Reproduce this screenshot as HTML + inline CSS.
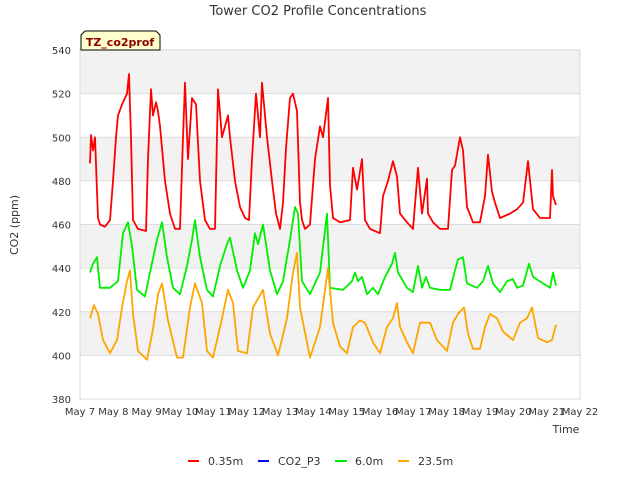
<!DOCTYPE html>
<html><head><meta charset="utf-8"><style>
body{margin:0;background:#fff;}
svg text{font-family:"DejaVu Sans","Liberation Sans",sans-serif;}
</style></head><body>
<svg id="chart" width="640" height="480" xmlns="http://www.w3.org/2000/svg">
<g id="bands"></g><g id="grid"></g>
<rect x="80" y="50" width="500" height="349" fill="none" stroke="#d8d8d8"/>
<g id="series"></g><g id="axes"></g>
<text x="318" y="15" text-anchor="middle" font-size="13" fill="#333">Tower CO2 Profile Concentrations</text>
<text transform="translate(18,225) rotate(-90)" text-anchor="middle" font-size="11" fill="#333">CO2 (ppm)</text>
<text x="566" y="433" text-anchor="middle" font-size="11" fill="#333">Time</text>
<g>
<path d="M81,50 L81,35 L85,31 L156,31 L160,35 L160,50 Z" fill="#ffffcc" stroke="#000" stroke-width="1"/>
<text x="120" y="46" text-anchor="middle" font-size="11" font-weight="bold" fill="#8b0000">TZ_co2prof</text>
</g>
<g>
<g><line x1="188" y1="461" x2="199" y2="461" stroke="#ff0000" stroke-width="2"/><text x="208" y="465" font-size="11" fill="#333">0.35m</text></g>
<g><line x1="258" y1="461" x2="269" y2="461" stroke="#0000ff" stroke-width="2"/><text x="278" y="465" font-size="11" fill="#333">CO2_P3</text></g>
<g><line x1="335" y1="461" x2="347" y2="461" stroke="#00ee00" stroke-width="2"/><text x="355" y="465" font-size="11" fill="#333">6.0m</text></g>
<g><line x1="398" y1="461" x2="409" y2="461" stroke="#ffa500" stroke-width="2"/><text x="418" y="465" font-size="11" fill="#333">23.5m</text></g>
</g>
</svg>
<script>
const yTicks=[380,400,420,440,460,480,500,520,540];
const xTickDays=[7,8,9,10,11,12,13,14,15,16,17,18,19,20,21,22];
const xTickLabels=["May 7","May 8","May 9","May 10","May 11","May 12","May 13","May 14","May 15","May 16","May 17","May 18","May 19","May 20","May 21","May 22"];
const redT=[7.30,7.33,7.39,7.45,7.54,7.60,7.75,7.90,7.99,8.08,8.14,8.26,8.41,8.47,8.53,8.59,8.74,8.98,9.04,9.13,9.19,9.28,9.34,9.40,9.55,9.70,9.85,10.00,10.09,10.15,10.24,10.36,10.48,10.60,10.75,10.90,11.05,11.14,11.26,11.35,11.44,11.50,11.65,11.80,11.95,12.07,12.16,12.28,12.40,12.46,12.52,12.61,12.76,12.88,13.00,13.09,13.18,13.30,13.39,13.51,13.60,13.66,13.75,13.90,14.05,14.20,14.29,14.44,14.50,14.59,14.80,15.10,15.19,15.31,15.46,15.55,15.70,16.00,16.09,16.24,16.39,16.51,16.60,16.81,16.99,17.14,17.26,17.41,17.44,17.59,17.80,18.04,18.16,18.25,18.40,18.49,18.61,18.79,19.00,19.15,19.24,19.36,19.45,19.60,19.90,20.11,20.29,20.44,20.59,20.80,21.10,21.16,21.19,21.28];
const redV=[488,501,494,500,463,460,459,462,480,500,510,515,520,529,500,462,458,457,490,522,510,516,512,505,480,465,458,458,500,525,490,518,515,480,462,458,458,522,500,505,510,500,480,468,463,462,490,520,500,525,515,500,480,465,458,470,495,518,520,512,470,462,458,460,490,505,500,518,478,463,461,462,486,476,490,462,458,456,473,480,489,482,465,461,458,486,465,481,465,461,458,458,485,487,500,494,468,461,461,473,492,475,470,463,465,467,470,489,467,463,463,485,473,469];
const greenT=[7.30,7.39,7.51,7.60,7.90,8.14,8.29,8.44,8.56,8.71,8.95,9.10,9.31,9.46,9.61,9.79,10.00,10.21,10.36,10.45,10.60,10.81,10.99,11.20,11.41,11.50,11.71,11.89,12.10,12.25,12.34,12.49,12.70,12.91,13.09,13.30,13.45,13.54,13.66,13.90,14.20,14.41,14.50,14.89,15.16,15.25,15.34,15.46,15.61,15.79,15.94,16.15,16.36,16.45,16.54,16.81,16.99,17.14,17.26,17.38,17.50,17.80,18.10,18.25,18.34,18.49,18.61,18.91,19.09,19.24,19.39,19.60,19.81,19.99,20.11,20.29,20.47,20.59,20.89,21.10,21.19,21.28];
const greenV=[438,442,445,431,431,434,456,461,450,430,427,438,453,461,445,431,428,441,453,462,445,430,427,441,451,454,439,431,439,456,451,460,439,428,434,453,468,465,434,428,438,465,431,430,434,438,434,436,428,431,428,436,442,447,438,431,429,441,431,436,431,430,430,439,444,445,433,431,434,441,433,429,434,435,431,432,442,436,433,431,438,432];
const orangeT=[7.30,7.42,7.54,7.69,7.90,8.11,8.26,8.41,8.50,8.59,8.74,9.01,9.19,9.34,9.46,9.64,9.91,10.09,10.30,10.45,10.66,10.81,10.99,11.26,11.44,11.59,11.74,12.01,12.19,12.49,12.70,12.94,13.21,13.39,13.51,13.60,13.90,14.20,14.44,14.59,14.80,15.01,15.19,15.40,15.55,15.79,16.00,16.21,16.39,16.51,16.60,16.81,16.99,17.20,17.50,17.71,18.01,18.19,18.34,18.52,18.64,18.79,19.00,19.15,19.30,19.51,19.69,19.99,20.20,20.41,20.56,20.74,21.01,21.16,21.28];
const orangeV=[417,423,419,407,401,407,422,434,439,419,402,398,412,428,433,416,399,399,422,433,424,402,399,417,430,424,402,401,422,430,410,400,417,438,447,422,399,413,440,415,404,401,413,416,415,406,401,413,417,424,413,406,401,415,415,407,402,415,419,422,410,403,403,413,419,417,411,407,415,417,422,408,406,407,414];

const NS="http://www.w3.org/2000/svg";
const X0=80,X1=580,Y0=399,Y1=50,D0=7,D1=22,V0=380,V1=540;
const xs=d=>X0+(d-D0)/(D1-D0)*(X1-X0);
const ys=v=>Y0-(v-V0)/(V1-V0)*(Y0-Y1);
function mk(tag,attrs,parent){const e=document.createElementNS(NS,tag);for(const k in attrs)e.setAttribute(k,attrs[k]);parent.appendChild(e);return e;}
const bands=document.getElementById('bands'),grid=document.getElementById('grid'),axes=document.getElementById('axes'),series=document.getElementById('series');
for(let i=0;i<yTicks.length-1;i++){
  if(i%2===1){const r=mk('rect',{x:X0,y:ys(yTicks[i+1]),width:X1-X0,height:ys(yTicks[i])-ys(yTicks[i+1]),fill:'#f2f2f2'},bands);
  
  }
}
yTicks.forEach(v=>{
  const l=mk('line',{x1:X0,x2:X1,y1:ys(v),y2:ys(v),stroke:'#dcdcdc'},grid);
  
  
  const t=mk('text',{x:71,y:ys(v)+4,'text-anchor':'end','font-size':'10',fill:'#333'},axes);
  t.textContent=v;
  
  
});
xTickDays.forEach((d,i)=>{
  const t=mk('text',{x:xs(d),y:415,'text-anchor':'middle','font-size':'10',fill:'#333'},axes);
  t.textContent=xTickLabels[i];
  
  
});
function draw(T,V,color,name){
  const pts=T.map((d,i)=>xs(d).toFixed(1)+','+ys(V[i]).toFixed(1)).join(' ');
  const p=mk('polyline',{points:pts,fill:'none',stroke:color,'stroke-width':'1.8','stroke-linejoin':'round'},series);
  
  
}
draw(redT,redV,'#ff0000','series-0.35m');
draw(greenT,greenV,'#00ee00','series-6.0m');
draw(orangeT,orangeV,'#ffa500','series-23.5m');
</script>
</body></html>
